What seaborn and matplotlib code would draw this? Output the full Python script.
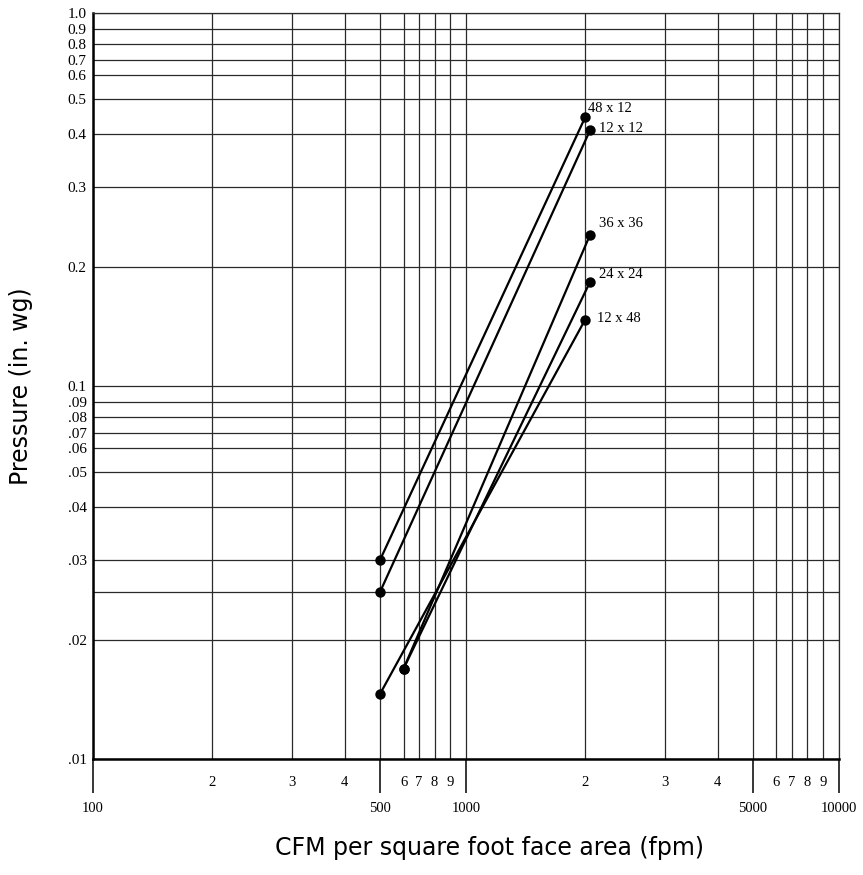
"""Pressure drop vs face velocity for several filter sizes (log-log chart paper)."""

import matplotlib
matplotlib.use("Agg")
import matplotlib.pyplot as plt
import matplotlib.ticker as mticker
import numpy as np
import pandas as pd
import seaborn as sns

# ─── Data ────────────────────────────────────────────────────────────────────

SERIES = ["48 x 12", "12 x 12", "36 x 36", "24 x 24", "12 x 48"]
FPM_LOW = [500, 500, 600, 600, 500]
FPM_HIGH = [2000, 2050, 2050, 2050, 2000]
PRESSURE_LOW = [0.030, 0.0255, 0.0169, 0.0169, 0.0146]
PRESSURE_HIGH = [0.445, 0.41, 0.235, 0.183, 0.147]

X_MAJOR = [100, 500, 1000, 5000, 10000]
X_MAJOR_LABELS = ["100", "500", "1000", "5000", "10000"]
X_MINOR = [200, 300, 400, 600, 700, 800, 900, 2000, 3000, 4000, 6000, 7000, 8000, 9000]
X_MINOR_LABELS = ["2", "3", "4", "6", "7", "8", "9", "2", "3", "4", "6", "7", "8", "9"]

Y_TICKS = [0.01, 0.02, 0.03, 0.04, 0.05, 0.06, 0.07, 0.08, 0.09,
           0.1, 0.2, 0.3, 0.4, 0.5, 0.6, 0.7, 0.8, 0.9, 1.0]
Y_LABELS = [".01", ".02", ".03", ".04", ".05", ".06", ".07", ".08", ".09",
            "0.1", "0.2", "0.3", "0.4", "0.5", "0.6", "0.7", "0.8", "0.9", "1.0"]

# label offsets (points) relative to the upper point of each series
LABEL_OFFSETS = {
    "48 x 12": (2, 6.5),
    "12 x 12": (6.5, 1.5),
    "36 x 36": (6.5, 8),
    "24 x 24": (6.5, 5),
    "12 x 48": (8.5, 0.7),
}

# ─── Chart paper scale (decade spacing of the printed grid) ─────────────────

KNOT_LOG = np.log10(np.arange(1, 11))
KNOT_POS = np.array([0, 0.320, 0.534, 0.675, 0.770, 0.833, 0.874, 0.916, 0.958, 1.0])


def paper_forward(v):
    v = np.asarray(v, dtype=float)
    lv = np.log10(np.clip(v, 1e-300, None))
    d = np.floor(lv)
    return d + np.interp(lv - d, KNOT_LOG, KNOT_POS)


def paper_inverse(m):
    m = np.asarray(m, dtype=float)
    d = np.floor(m)
    return 10 ** (d + np.interp(m - d, KNOT_POS, KNOT_LOG))


sns.set_style("white")
plt.rcParams["font.family"] = ["Liberation Serif", "DejaVu Serif"]
plt.rcParams.update({"text.color": "black", "axes.labelcolor": "black",
                     "xtick.labelcolor": "black", "ytick.labelcolor": "black"})
SANS = ["DejaVu Sans"]

rows = []
for name, x0, x1, y0, y1 in zip(SERIES, FPM_LOW, FPM_HIGH, PRESSURE_LOW, PRESSURE_HIGH):
    rows.append({"filter": name, "fpm": x0, "pressure": y0})
    rows.append({"filter": name, "fpm": x1, "pressure": y1})
df = pd.DataFrame(rows)

fig = plt.figure(figsize=(8.63, 8.75), dpi=100)
ax = fig.add_axes([93 / 863, 1 - 759 / 875, 745.7 / 863, 746 / 875])
ax.set_xscale("function", functions=(paper_forward, paper_inverse))
ax.set_yscale("function", functions=(paper_forward, paper_inverse))
ax.set_xlim(100, 10000)
ax.set_ylim(0.01, 1.0)

GRID = dict(color="#2a2a2a", linewidth=0.9)

ax.xaxis.set_major_locator(mticker.FixedLocator(X_MAJOR))
ax.xaxis.set_major_formatter(mticker.FixedFormatter(X_MAJOR_LABELS))
ax.xaxis.set_minor_locator(mticker.FixedLocator(X_MINOR))
ax.xaxis.set_minor_formatter(mticker.FixedFormatter(X_MINOR_LABELS))
ax.yaxis.set_major_locator(mticker.FixedLocator(Y_TICKS))
ax.yaxis.set_major_formatter(mticker.FixedFormatter(Y_LABELS))
ax.yaxis.set_minor_locator(mticker.NullLocator())

ax.tick_params(axis="x", which="major", bottom=True, direction="out", length=24.5,
               width=1.1, color="black", pad=6.5, labelsize=10.5, labelcolor="black")
ax.tick_params(axis="x", which="minor", bottom=True, length=0, pad=12.5, labelsize=10.5,
               labelcolor="black")
ax.tick_params(axis="y", which="major", left=True, length=0, pad=4.5, labelsize=11,
               labelcolor="black")

ax.grid(True, axis="x", which="both", **GRID)
ax.grid(True, axis="y", which="major", **GRID)
ax.axhline(PRESSURE_LOW[1], zorder=0.5, **GRID)
ax.set_axisbelow(True)

for side in ["top", "right"]:
    ax.spines[side].set_linewidth(0.9)
    ax.spines[side].set_color("#2a2a2a")
for side in ["left", "bottom"]:
    ax.spines[side].set_linewidth(1.8)
    ax.spines[side].set_color("black")

sns.lineplot(data=df, x="fpm", y="pressure", units="filter", estimator=None,
             color="black", marker="o", markersize=7.5, markeredgewidth=0,
             linewidth=1.6, sort=False, legend=False, ax=ax)

for name, x1, y1 in zip(SERIES, FPM_HIGH, PRESSURE_HIGH):
    ax.annotate(name, (x1, y1), xytext=LABEL_OFFSETS[name], textcoords="offset points",
                ha="left", va="center", fontsize=10.5, color="black")

ax.set_xlabel("CFM per square foot face area (fpm)", fontsize=17, family=SANS,
              va="center", color="black")
ax.set_ylabel("Pressure (in. wg)", fontsize=17, family=SANS, va="center", color="black")
ax.xaxis.set_label_coords(0.532, -0.119)
ax.yaxis.set_label_coords(-0.0966, 0.5)

fig.savefig("out.png", dpi=100)
plt.close(fig)
